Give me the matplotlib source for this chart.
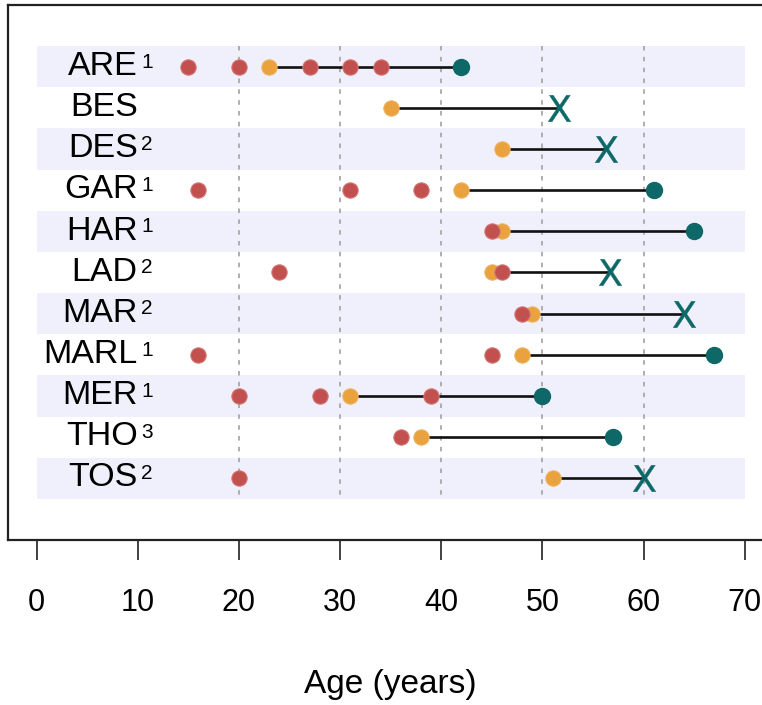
import matplotlib
matplotlib.use("Agg")
import matplotlib.pyplot as plt

plt.rcParams['font.family'] = ['Liberation Sans', 'DejaVu Sans']

# datos
nombres = ['ARE', 'BES', 'DES', 'GAR', 'HAR', 'LAD', 'MAR', 'MARL', 'MER', 'THO', 'TOS']
superindices = ['1', '', '2', '1', '1', '2', '2', '1', '1', '3', '2']
inicio = [23, 35, 46, 42, 46, 45, 49, 48, 31, 38, 51]
fin = [42, 51.6, 56.3, 61, 65, 56.7, 64, 67, 50, 57, 60]
fin_vivo = [False, True, True, False, False, True, True, False, False, False, True]
eventos = [
    [15, 20, 27, 31, 34],
    [],
    [],
    [16, 31, 38],
    [45],
    [24, 46],
    [48],
    [16, 45],
    [20, 28, 39],
    [36],
    [20],
]
xticks = [0, 10, 20, 30, 40, 50, 60, 70]
lineas_grid = [20, 30, 40, 50, 60]

ROJO = '#C2504F'
NARANJA = '#E9A23D'
VERDE = '#0E6868'
BANDA = '#F0F0FC'

fig = plt.figure(figsize=(7.62, 7.05), dpi=100)
ax = fig.add_axes([8 / 762, 165 / 705, 1 - 8 / 762, 535 / 705])

n = len(nombres)
# bandas alternas
for i in range(0, n, 2):
    ax.barh(i, 70, left=0, height=1, color=BANDA, zorder=0)

ax.vlines(lineas_grid, -0.5, n - 0.5, colors='#a8a8a8', linestyles=(0, (2.5, 3.5)),
          linewidth=1.3, zorder=1)

for i in range(n):
    ax.plot([inicio[i], fin[i]], [i, i], color='#111111', lw=1.9, zorder=2,
            solid_capstyle='butt')
    ax.plot(inicio[i], i, 'o', ms=11, color=NARANJA, mec='#EDB25E', mew=0.8, zorder=4)
    for e in eventos[i]:
        ax.plot(e, i, 'o', ms=11, color=ROJO, mec='#D27474', mew=0.8, zorder=5)
    if fin_vivo[i]:
        ax.plot(fin[i], i, marker=r'$\mathsf{X}$', ms=19, color=VERDE, mew=0.3, zorder=3)
    else:
        ax.plot(fin[i], i, 'o', ms=11.5, color=VERDE, mec=VERDE, zorder=3)

    ax.text(10, i + 0.2, nombres[i], ha='right', va='baseline', fontsize=24.5)
    if superindices[i]:
        ax.text(10.35, i + 0.02, superindices[i], ha='left', va='baseline', fontsize=15)

ax.set_xlim(-2.82, 71.7)
ax.set_ylim(n + 0.5, -1.5)
ax.set_yticks([])
ax.set_xticks(xticks)
ax.tick_params(axis='x', length=14.5, width=1.2, pad=20, labelsize=22, color='#222222')
for s in ['left', 'top', 'bottom']:
    ax.spines[s].set_linewidth(1.6)
    ax.spines[s].set_color('#222222')
ax.spines['right'].set_visible(False)

fig.text(390 / 762, 1 - 685 / 705, 'Age (years)', ha='center', va='center', fontsize=24)

fig.savefig('out.png', dpi=100, facecolor='white')
plt.close(fig)
